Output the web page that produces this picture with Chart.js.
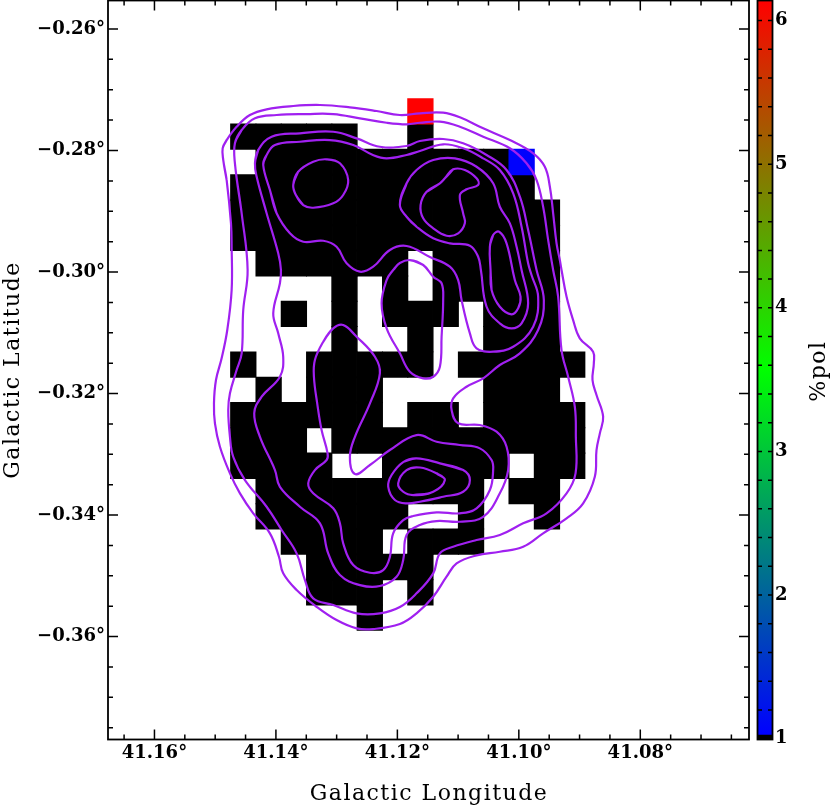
<!DOCTYPE html>
<html>
<head>
<meta charset="utf-8">
<title>%pol map</title>
<script src="https://cdn.jsdelivr.net/npm/chart.js@4/dist/chart.umd.min.js"></script>
<style>
    html, body { margin: 0; padding: 0; background: #fff; }
    #wrap { position: relative; width: 830px; height: 805px; overflow: hidden; }
    #mapChart { position: absolute; left: 0; top: 0; }
    #barChart { position: absolute; left: 750px; top: 0; }
</style>
</head>
<body>
<div id="wrap">
    <canvas id="mapChart" width="830" height="805"></canvas>
    <canvas id="barChart" width="80" height="805"></canvas>
</div>
<script>
// axis ticks
const lonTicks = [41.16, 41.14, 41.12, 41.10, 41.08];
const lonMinorTicks = [41.165, 41.155, 41.15, 41.145, 41.135, 41.13, 41.125, 41.115, 41.11, 41.105, 41.095, 41.09, 41.085, 41.075, 41.07, 41.065];
const latTicks = [-0.26, -0.28, -0.30, -0.32, -0.34, -0.36];
const latMinorTicks = [-0.265, -0.27, -0.275, -0.285, -0.29, -0.295, -0.305, -0.31, -0.315, -0.325, -0.33, -0.335, -0.345, -0.35, -0.355, -0.365, -0.37, -0.375];
const polTicks = [1, 2, 3, 4, 5, 6];
const polMinorTicks = [1.2, 1.4, 1.6, 1.8, 2, 2.2, 2.4, 2.6, 2.8, 3, 3.2, 3.4, 3.6, 3.8, 4, 4.2, 4.4, 4.6, 4.8, 5, 5.2, 5.4, 5.6, 5.8, 6];

// map pixels: centres of the grid, then which columns are filled on each row
const cellSizeDeg = 1 / 240;
const cellLons = [41.14537, 41.14120, 41.13704, 41.13287, 41.12871, 41.12454, 41.12037, 41.11621, 41.11204, 41.10787, 41.10371, 41.09954, 41.09537, 41.09121];
const cellLats = [-0.27356, -0.27773, -0.28189, -0.28606, -0.29023, -0.29439, -0.29856, -0.30273, -0.30689, -0.31106, -0.31523, -0.31939, -0.32356, -0.32773, -0.33189, -0.33606, -0.34023, -0.34439, -0.34856, -0.35273, -0.35689];
const lowCellCols = [
    [],
    [0, 1, 2, 3, 4, 7],
    [1, 2, 3, 4, 5, 6, 7, 8, 9, 10],
    [0, 1, 2, 3, 4, 5, 6, 7, 8, 9, 10, 11],
    [0, 1, 2, 3, 4, 5, 6, 7, 8, 9, 10, 11, 12],
    [0, 1, 2, 3, 4, 5, 6, 7, 8, 9, 10, 11, 12],
    [1, 2, 3, 4, 5, 6, 8, 9, 10, 11, 12],
    [4, 6, 8, 9, 10, 11, 12],
    [2, 4, 6, 7, 8, 10, 11, 12],
    [4, 7, 10, 11, 12],
    [0, 3, 4, 5, 6, 7, 9, 10, 11, 12, 13],
    [1, 3, 4, 5, 10, 11, 12],
    [0, 1, 2, 3, 4, 5, 7, 8, 10, 11, 12, 13],
    [0, 1, 2, 4, 5, 6, 7, 8, 9, 10, 11, 12, 13],
    [0, 1, 2, 3, 6, 7, 8, 9, 10, 12, 13],
    [1, 2, 3, 4, 5, 6, 7, 8, 9, 11, 12],
    [1, 2, 3, 4, 5, 6, 9, 12],
    [2, 3, 4, 5, 7, 8, 9],
    [3, 4, 5, 6, 7],
    [3, 4, 5, 7],
    [5]
];
const lowCellPol = 1.0;
const measuredCols = [7, 11];
const measuredRows = [0, 2];
const measuredPol = [6.14, 1.04];

// colour bar range
const polAxisMin = 0.994;
const polColourMin = 1.025;
const polColourMid = 3.57;
const polColourMax = 6.14;

// contours as [longitude, latitude]
const contourA = [[41.14877,-0.27964],[41.14811,-0.27828],[41.14647,-0.27609],[41.14428,-0.27416],[41.14153,-0.27322],[41.13715,-0.27268],[41.13275,-0.27251],[41.12782,-0.27289],[41.12342,-0.2735],[41.11959,-0.27416],[41.11629,-0.27388],[41.11246,-0.27378],[41.10971,-0.27454],[41.10587,-0.27635],[41.10148,-0.27828],[41.09764,-0.28046],[41.09572,-0.28267],[41.09489,-0.28596],[41.09435,-0.29034],[41.09379,-0.29528],[41.09325,-0.29803],[41.09297,-0.29967],[41.09214,-0.30407],[41.09106,-0.30791],[41.08996,-0.31092],[41.08777,-0.31312],[41.08765,-0.31503],[41.08787,-0.31778],[41.08721,-0.32025],[41.08612,-0.32382],[41.08666,-0.32656],[41.08721,-0.3293],[41.08749,-0.3337],[41.08941,-0.33808],[41.09214,-0.34055],[41.096,-0.34302],[41.09929,-0.34522],[41.10313,-0.34605],[41.10696,-0.34664],[41.11025,-0.34796],[41.1119,-0.35016],[41.1141,-0.35345],[41.11684,-0.35619],[41.11959,-0.35795],[41.12398,-0.35877],[41.12671,-0.35866],[41.13001,-0.35729],[41.1333,-0.3551],[41.13659,-0.35235],[41.1388,-0.3496],[41.1395,-0.34687],[41.14099,-0.34302],[41.14373,-0.33972],[41.14592,-0.33643],[41.14757,-0.33314],[41.14922,-0.32876],[41.15004,-0.32491],[41.1502,-0.32162],[41.14987,-0.31778],[41.14894,-0.31421],[41.14801,-0.30955],[41.14729,-0.30297],[41.14729,-0.29584],[41.1474,-0.29199],[41.14811,-0.28486],[41.14867,-0.28157]];
const contourB = [[41.14675,-0.27882],[41.14564,-0.27663],[41.14345,-0.2747],[41.13988,-0.27416],[41.13494,-0.274],[41.13056,-0.274],[41.12617,-0.2747],[41.12177,-0.27543],[41.11848,-0.27569],[41.11629,-0.27543],[41.113,-0.27526],[41.10971,-0.27609],[41.10587,-0.27773],[41.10148,-0.27964],[41.09873,-0.28211],[41.09708,-0.28486],[41.096,-0.28926],[41.09517,-0.29474],[41.09435,-0.29967],[41.09353,-0.30407],[41.09297,-0.31284],[41.09188,-0.31724],[41.09078,-0.32218],[41.09061,-0.32712],[41.09066,-0.33314],[41.09214,-0.33643],[41.09544,-0.33972],[41.09929,-0.34137],[41.10313,-0.3433],[41.10696,-0.34412],[41.11081,-0.34522],[41.113,-0.34631],[41.1141,-0.3496],[41.11684,-0.35289],[41.11959,-0.35515],[41.12288,-0.35619],[41.12671,-0.35619],[41.13056,-0.35482],[41.13386,-0.35372],[41.13522,-0.3507],[41.13659,-0.34631],[41.13906,-0.34247],[41.14153,-0.33864],[41.1451,-0.33424],[41.14703,-0.33041],[41.14757,-0.32712],[41.14785,-0.32272],[41.14757,-0.31997],[41.14647,-0.31614],[41.14564,-0.31339],[41.14538,-0.30626],[41.14466,-0.29967],[41.14564,-0.29034],[41.14675,-0.28211]];
const contourC = [[41.14345,-0.28211],[41.14291,-0.27992],[41.14071,-0.27773],[41.13605,-0.27717],[41.13056,-0.27691],[41.12671,-0.278],[41.12288,-0.27938],[41.11848,-0.27926],[41.11629,-0.27844],[41.11246,-0.27811],[41.10917,-0.27882],[41.10531,-0.28074],[41.10202,-0.28321],[41.09983,-0.28761],[41.09847,-0.29309],[41.09708,-0.29967],[41.09588,-0.30461],[41.09682,-0.30955],[41.09983,-0.31339],[41.10313,-0.31531],[41.10587,-0.3175],[41.10861,-0.31889],[41.11081,-0.3208],[41.11107,-0.32272],[41.10999,-0.32491],[41.10642,-0.32519],[41.10367,-0.32629],[41.10202,-0.32876],[41.10176,-0.3326],[41.10313,-0.33643],[41.10587,-0.34029],[41.10971,-0.34111],[41.11354,-0.34099],[41.11629,-0.34165],[41.11848,-0.3433],[41.11904,-0.34741],[41.12013,-0.35016],[41.12288,-0.35169],[41.12617,-0.35153],[41.12946,-0.34988],[41.13139,-0.34631],[41.13275,-0.34137],[41.13605,-0.33864],[41.13934,-0.33535],[41.14016,-0.3326],[41.14263,-0.32712],[41.14357,-0.32326],[41.14235,-0.32053],[41.13934,-0.31724],[41.1388,-0.31395],[41.13962,-0.3101],[41.14044,-0.3068],[41.13934,-0.30186],[41.13917,-0.29967],[41.13962,-0.29693],[41.14153,-0.29034],[41.14317,-0.28432]];
const contourD = [[41.14209,-0.28239],[41.14153,-0.28074],[41.14016,-0.2791],[41.13605,-0.27856],[41.13111,-0.27828],[41.12727,-0.2791],[41.12403,-0.28074],[41.12177,-0.28129],[41.11848,-0.28074],[41.11629,-0.28009],[41.11246,-0.27898],[41.10917,-0.27964],[41.10587,-0.28129],[41.10313,-0.28321],[41.10093,-0.28705],[41.09955,-0.29255],[41.09847,-0.29857],[41.09791,-0.3005],[41.09682,-0.30407],[41.09764,-0.30901],[41.10093,-0.3123],[41.10423,-0.31312],[41.10696,-0.31256],[41.10806,-0.3101],[41.10943,-0.30461],[41.10999,-0.30132],[41.11136,-0.29913],[41.11465,-0.29753],[41.11848,-0.29572],[41.12123,-0.29638],[41.12398,-0.29913],[41.12617,-0.29995],[41.12836,-0.29857],[41.13001,-0.29584],[41.13221,-0.29485],[41.1355,-0.29502],[41.13769,-0.29363],[41.13988,-0.29034],[41.14099,-0.28651]];
const contourE = [[41.11794,-0.29803],[41.11575,-0.29885],[41.1141,-0.30078],[41.11272,-0.30186],[41.11246,-0.30461],[41.11272,-0.31065],[41.113,-0.31559],[41.1141,-0.31724],[41.11575,-0.3175],[41.11794,-0.31642],[41.11959,-0.31339],[41.12177,-0.30927],[41.1226,-0.30516],[41.12177,-0.30132],[41.12069,-0.29967],[41.11959,-0.29852]];
const contourF = [[41.11959,-0.28898],[41.11848,-0.2854],[41.11684,-0.28321],[41.1141,-0.28157],[41.11053,-0.28129],[41.10696,-0.28267],[41.10423,-0.2854],[41.10313,-0.28926],[41.10148,-0.29199],[41.10037,-0.29584],[41.09955,-0.29967],[41.09847,-0.30516],[41.09955,-0.30845],[41.1012,-0.30927],[41.10313,-0.30845],[41.10531,-0.30572],[41.10625,-0.29967],[41.1067,-0.29749],[41.10806,-0.29567],[41.11136,-0.29528],[41.1141,-0.29446],[41.11684,-0.29255],[41.11848,-0.2909]];
const contourG = [[41.11218,-0.28458],[41.11081,-0.2831],[41.10889,-0.28321],[41.10696,-0.28458],[41.1067,-0.28568],[41.10861,-0.28639],[41.10971,-0.28733],[41.10917,-0.29034],[41.10889,-0.29199],[41.10999,-0.29363],[41.1119,-0.29403],[41.1141,-0.29281],[41.11575,-0.29116],[41.11618,-0.28898],[41.11519,-0.28679],[41.113,-0.2854]];
const contourH = [[41.10477,-0.29584],[41.10423,-0.29391],[41.10324,-0.29337],[41.10202,-0.29528],[41.10066,-0.30132],[41.09972,-0.30407],[41.10011,-0.30598],[41.1012,-0.30697],[41.10313,-0.30572],[41.10449,-0.30297],[41.10466,-0.29967]];
const contourI = [[41.13715,-0.28568],[41.13633,-0.28349],[41.13386,-0.28185],[41.13165,-0.28145],[41.12946,-0.28211],[41.1281,-0.28486],[41.12892,-0.28733],[41.13056,-0.2887],[41.13386,-0.28942],[41.1355,-0.28898],[41.13671,-0.28733]];
const contourJ = [[41.12892,-0.30873],[41.12671,-0.31065],[41.1237,-0.31395],[41.12288,-0.31668],[41.12452,-0.32162],[41.12699,-0.32712],[41.12782,-0.33041],[41.12699,-0.33326],[41.12452,-0.33177],[41.12123,-0.3293],[41.11684,-0.32684],[41.11354,-0.32794],[41.10971,-0.32848],[41.10642,-0.32903],[41.10449,-0.33095],[41.10423,-0.3326],[41.10477,-0.33589],[41.10696,-0.3389],[41.10971,-0.33972],[41.11354,-0.33956],[41.1174,-0.34017],[41.11904,-0.34083],[41.12069,-0.34302],[41.12123,-0.34687],[41.12233,-0.34906],[41.12452,-0.3495],[41.12727,-0.34824],[41.12892,-0.34466],[41.12946,-0.34137],[41.13056,-0.3389],[41.13386,-0.33643],[41.13468,-0.33479],[41.13358,-0.3326],[41.13165,-0.33095],[41.13149,-0.32985],[41.13248,-0.32601],[41.1332,-0.32162],[41.13374,-0.31724],[41.13358,-0.31449],[41.13221,-0.31148],[41.13056,-0.30927]];
const contourK = [[41.11684,-0.33067],[41.11904,-0.33128],[41.12095,-0.33342],[41.12151,-0.33534],[41.12041,-0.33753],[41.11848,-0.33808],[41.11629,-0.33781],[41.11246,-0.33699],[41.10917,-0.33617],[41.10806,-0.33424],[41.10917,-0.3326],[41.113,-0.33149]];
const contourL = [[41.11218,-0.33424],[41.11354,-0.33314],[41.11629,-0.33218],[41.11848,-0.3326],[41.11987,-0.33479],[41.11904,-0.33617],[41.1174,-0.33671],[41.1141,-0.33617]];
const contours = [contourA, contourB, contourC, contourD, contourE, contourF, contourG, contourH, contourI, contourJ, contourK, contourL];

const labelFont = { family: "'DejaVu Serif'", size: 18, weight: 'bold' };
const titleFont = "22px 'DejaVu Serif'";

function polColour(pol) {
    if (pol < polColourMin) return '#000000';
    let r, g, b;
    if (pol < polColourMid) {
        const t = (pol - polColourMin) / (polColourMid - polColourMin);
        r = 0; g = 255 * t; b = 255 * (1 - t);
    } else {
        const t = (pol - polColourMid) / (polColourMax - polColourMid);
        r = 255 * t; g = 255 * (1 - t); b = 0;
    }
    return `rgb(${Math.round(r)}, ${Math.round(g)}, ${Math.round(b)})`;
}

// text with letter spacing, the scale titles of Chart.js have no such option
function drawTitle(ctx, text, x, y, angle) {
    ctx.save();
    ctx.translate(x, y);
    ctx.rotate(angle);
    ctx.font = titleFont;
    ctx.letterSpacing = '1.5px';
    ctx.fillStyle = '#000';
    ctx.textAlign = 'center';
    ctx.textBaseline = 'alphabetic';
    ctx.fillText(text, 0, 0);
    ctx.restore();
}

// labels may stick out of the axis, no extra margin for them
function noLabelMargin(scale) {
    scale.paddingTop = 0;
    scale.paddingBottom = 0;
    scale.paddingLeft = 0;
    scale.paddingRight = 0;
}

const cellPoints = [];
lowCellCols.forEach((cols, row) => {
    cols.forEach((col) => {
        cellPoints.push({ x: cellLons[col], y: cellLats[row], pol: lowCellPol });
    });
});
measuredCols.forEach((col, i) => {
    cellPoints.push({ x: cellLons[col], y: cellLats[measuredRows[i]], pol: measuredPol[i] });
});

function cellRadius(context) {
    const xScale = context.chart.scales.x;
    const side = Math.abs(xScale.getPixelForValue(cellLons[0]) - xScale.getPixelForValue(cellLons[0] - cellSizeDeg));
    return (side - 0.5) / Math.SQRT2;
}

// wrap two points around each end so a closed loop has no kink where it joins
const datasets = contours.map((contour) => ({
    type: 'scatter',
    data: contour.slice(-2).concat(contour, contour.slice(0, 2)).map((p) => ({ x: p[0], y: p[1] })),
    showLine: true,
    borderColor: '#A020F0',
    borderWidth: 2.2,
    tension: 0.4,
    pointRadius: 0,
    fill: false
}));
datasets.push({
    type: 'scatter',
    data: cellPoints,
    showLine: false,
    pointStyle: 'rect',
    pointRadius: cellRadius,
    pointBorderWidth: 1.5,
    pointBackgroundColor: (c) => polColour(c.raw.pol),
    pointBorderColor: (c) => polColour(c.raw.pol)
});

// ticks point inward on all four sides, frame on top
const mapFrame = {
    id: 'mapFrame',
    afterDraw(chart) {
        const ctx = chart.ctx;
        const area = chart.chartArea;
        const xs = chart.scales.x;
        const ys = chart.scales.y;
        ctx.save();
        ctx.strokeStyle = '#000';
        ctx.lineWidth = 1.5;
        ctx.beginPath();
        const xTick = (v, len) => {
            const px = xs.getPixelForValue(v);
            ctx.moveTo(px, area.bottom); ctx.lineTo(px, area.bottom - len);
            ctx.moveTo(px, area.top); ctx.lineTo(px, area.top + len);
        };
        const yTick = (v, len) => {
            const py = ys.getPixelForValue(v);
            ctx.moveTo(area.left, py); ctx.lineTo(area.left + len, py);
            ctx.moveTo(area.right, py); ctx.lineTo(area.right - len, py);
        };
        lonTicks.forEach((v) => xTick(v, 10));
        lonMinorTicks.forEach((v) => xTick(v, 5));
        latTicks.forEach((v) => yTick(v, 10));
        latMinorTicks.forEach((v) => yTick(v, 5));
        ctx.stroke();
        ctx.lineWidth = 1.8;
        ctx.strokeRect(area.left, area.top, area.right - area.left, area.bottom - area.top);
        ctx.restore();
        drawTitle(ctx, 'Galactic Longitude', 429, 800, 0);
        drawTitle(ctx, 'Galactic Latitude', 19, 370, -Math.PI / 2);
    }
};

const barFrame = {
    id: 'barFrame',
    afterDraw(chart) {
        const ctx = chart.ctx;
        const area = chart.chartArea;
        const ys = chart.scales.y;
        ctx.save();
        ctx.strokeStyle = '#000';
        ctx.lineWidth = 1.5;
        ctx.beginPath();
        polMinorTicks.forEach((v) => {
            const py = ys.getPixelForValue(v);
            ctx.moveTo(area.left, py); ctx.lineTo(area.left + 4.5, py);
            ctx.moveTo(area.right, py); ctx.lineTo(area.right - 4.5, py);
        });
        ctx.stroke();
        ctx.lineWidth = 1.8;
        ctx.strokeRect(area.left, area.top, area.right - area.left, area.bottom - area.top);
        ctx.restore();
        drawTitle(ctx, '%pol', 75, 371, -Math.PI / 2);
    }
};

new Chart(document.getElementById('mapChart').getContext('2d'), {
    type: 'scatter',
    data: { datasets: datasets },
    plugins: [mapFrame],
    options: {
        responsive: false,
        animation: false,
        events: [],
        layout: { padding: { top: 0.5, right: 81, left: 0, bottom: 0 } },
        plugins: { legend: { display: false }, tooltip: { enabled: false } },
        scales: {
            x: {
                type: 'linear',
                position: 'bottom',
                reverse: true,
                min: 41.16765,
                max: 41.0621,
                border: { display: false },
                grid: { display: false, drawTicks: false },
                afterBuildTicks: (scale) => { scale.ticks = lonTicks.map((v) => ({ value: v })); },
                afterFit: (scale) => { scale.height = 65.5; noLabelMargin(scale); },
                ticks: {
                    autoSkip: false,
                    maxRotation: 0,
                    padding: 3,
                    color: '#000',
                    font: labelFont,
                    callback: (v) => v.toFixed(2) + '°'
                }
            },
            y: {
                type: 'linear',
                min: -0.37695,
                max: -0.25531,
                border: { display: false },
                grid: { display: false, drawTicks: false },
                afterBuildTicks: (scale) => { scale.ticks = latTicks.map((v) => ({ value: v })); },
                afterFit: (scale) => { scale.width = 108; noLabelMargin(scale); },
                ticks: {
                    autoSkip: false,
                    padding: 3,
                    color: '#000',
                    font: labelFont,
                    callback: (v) => '\u2212' + Math.abs(v).toFixed(2) + '°'
                }
            }
        }
    }
});

new Chart(document.getElementById('barChart').getContext('2d'), {
    type: 'bar',
    data: {
        labels: ['%pol'],
        datasets: [
            { data: [[polAxisMin, polColourMin]], backgroundColor: '#000000', grouped: false, barPercentage: 1, categoryPercentage: 1 },
            {
                data: [[polColourMin, polColourMax]],
                grouped: false,
                barPercentage: 1,
                categoryPercentage: 1,
                backgroundColor: (c) => {
                    if (!c.chart.chartArea) return '#000000';
                    const ys = c.chart.scales.y;
                    const g = c.chart.ctx.createLinearGradient(0, ys.getPixelForValue(polColourMin), 0, ys.getPixelForValue(polColourMax));
                    g.addColorStop(0, polColour(polColourMin));
                    g.addColorStop((polColourMid - polColourMin) / (polColourMax - polColourMin), polColour(polColourMid));
                    g.addColorStop(1, polColour(polColourMax));
                    return g;
                }
            }
        ]
    },
    plugins: [barFrame],
    options: {
        responsive: false,
        animation: false,
        events: [],
        layout: { padding: { top: 0.5, left: 7.5, right: 0, bottom: 65.5 } },
        plugins: { legend: { display: false }, tooltip: { enabled: false } },
        scales: {
            x: { display: false },
            y: {
                position: 'right',
                min: polAxisMin,
                max: polColourMax,
                border: { display: false },
                grid: { display: false, drawTicks: false },
                afterBuildTicks: (scale) => { scale.ticks = polTicks.map((v) => ({ value: v })); },
                afterFit: (scale) => { scale.width = 57.5; noLabelMargin(scale); },
                ticks: {
                    autoSkip: false,
                    padding: 2.5,
                    color: '#000',
                    font: labelFont,
                    callback: (v) => String(v)
                }
            }
        }
    }
});
</script>
</body>
</html>
